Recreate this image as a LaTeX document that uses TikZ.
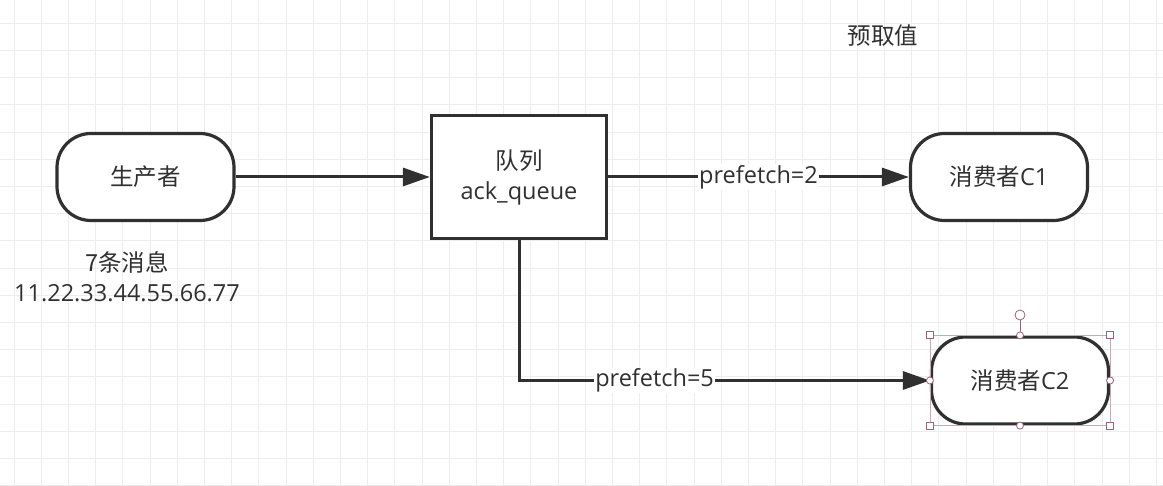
\documentclass[tikz,border=0pt]{standalone}
\usepackage{fontspec}
\setmainfont{Open Sans}
\newfontfamily\cjk{Noto Sans CJK SC}
\usepackage{xcolor}
\usepackage{tikz}
\usetikzlibrary{shapes,arrows.meta,positioning}
\definecolor{ink}{HTML}{303030}
\definecolor{gridgray}{HTML}{EDEDED}
\definecolor{handle}{HTML}{A0607A}
\definecolor{handleline}{HTML}{CCA6B4}
\tikzset{
  gridline/.style={draw=gridgray, line width=1pt},
  term/.style={draw=ink, line width=3.2pt, rounded corners=34pt, fill=white,
    minimum width=177pt, minimum height=87pt, text=ink},
  queuebox/.style={draw=ink, line width=3.2pt, fill=white, minimum width=175pt,
    minimum height=123pt, align=center, text=ink},
  flow/.style={draw=ink, line width=3pt, -{Triangle[length=27pt,width=18pt]}},
  lbl/.style={fill=white, inner sep=1pt, text=ink},
  txt/.style={text=ink, align=center},
  sizehandle/.style={draw=handle, fill=white, line width=0.8pt, minimum size=7pt, inner sep=0pt},
  pointhandle/.style={draw=handle, fill=white, circle, line width=0.8pt, minimum size=7pt, inner sep=0pt},
  rothandle/.style={draw=handle, fill=white, circle, line width=0.8pt, minimum size=10pt, inner sep=0pt}
}
\begin{document}
\begin{tikzpicture}[x=1pt, y=-1pt, font=\fontsize{23.5}{30}\selectfont]
    \useasboundingbox[fill=white] (0,0) rectangle (1163,486);
    \foreach \k in {0,...,42} \draw[gridline] ({14+27.2*\k},0) -- ({14+27.2*\k},486);
    \foreach \k in {0,...,17} \draw[gridline] (0,{23.3+27.2*\k}) -- (1163,{23.3+27.2*\k});

    \node[term] (prod) at (145.5,177) {\cjk 生产者};
    \node[queuebox] (queue) at (519,177) {{\cjk 队列}\\ack\_queue};
    \node[term] (c1) at (999,177) {{\cjk 消费者}C1};
    \node[term] (c2) at (1020,380.5) {{\cjk 消费者}C2};
    \node[txt] (prefetchnote) at (883,36) {\cjk 预取值};
    \node[txt] (msgs) at (127,277) {{\cjk 7条消息}\\11.22.33.44.55.66.77};

    \draw[flow] (prod) -- (queue);
    \draw[flow] (queue) -- node[lbl] {prefetch=2} (c1);
    \draw[flow] (queue) |- node[lbl, pos=0.665] {prefetch=5} (c2);

    % selection handles on c2
    \draw[handleline, line width=0.6pt] (c2.north west) rectangle (c2.south east);
    \node[rothandle, above=15pt of c2.north] (rot) {};
    \draw[handle, line width=0.8pt] (rot) -- (c2.north);
    \foreach \a in {north west,north east,south west,south east} \node[sizehandle] at (c2.\a) {};
    \foreach \a in {north,south,east,west} \node[pointhandle] at (c2.\a) {};
\end{tikzpicture}
\end{document}
